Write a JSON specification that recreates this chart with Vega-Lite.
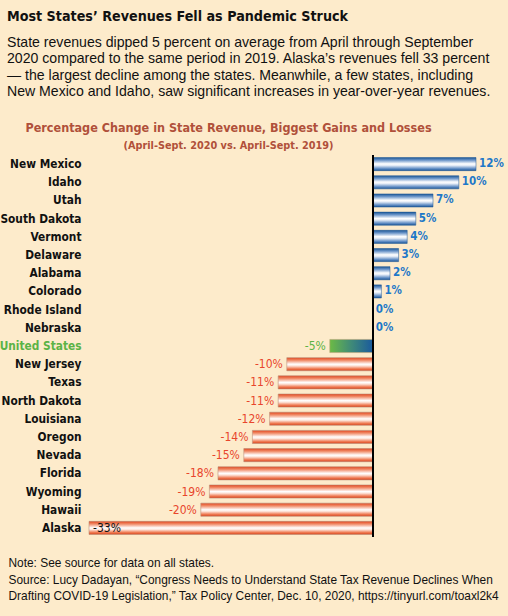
{
  "$schema": "https://vega.github.io/schema/vega-lite/v6.json",
  "width": 387,
  "height": 382,
  "autosize": {"type": "none"},
  "padding": {"left": 89, "top": 155, "right": 32, "bottom": 79},
  "background": "#FDEBCB",
  "config": {
    "view": {"stroke": null},
    "font": "Liberation Sans",
    "axis": {"grid": false},
    "locale": {"number": {"decimal": ".", "thousands": ",", "grouping": [3], "currency": ["$", ""], "minus": "-"}}
  },
  "title": {
    "text": "Most States’ Revenues Fell as Pandemic Struck",
    "subtitle": [
      "State revenues dipped 5 percent on average from April through September",
      "2020 compared to the same period in 2019. Alaska’s revenues fell 33 percent",
      "— the largest decline among the states. Meanwhile, a few states, including",
      "New Mexico and Idaho, saw significant increases in year-over-year revenues."
    ],
    "anchor": "start",
    "frame": "group",
    "dx": -82,
    "offset": 22,
    "font": "DejaVu Sans Condensed",
    "fontSize": 14.2,
    "fontWeight": "bold",
    "color": "#111111",
    "subtitleFont": "Liberation Sans",
    "subtitleFontSize": 14.1,
    "subtitleColor": "#111111",
    "subtitleLineHeight": 16.5,
    "subtitlePadding": 11.5
  },
  "data": {
    "values": [
      {"state": "New Mexico", "value": 0.12},
      {"state": "Idaho", "value": 0.10},
      {"state": "Utah", "value": 0.07},
      {"state": "South Dakota", "value": 0.05},
      {"state": "Vermont", "value": 0.04},
      {"state": "Delaware", "value": 0.03},
      {"state": "Alabama", "value": 0.02},
      {"state": "Colorado", "value": 0.01},
      {"state": "Rhode Island", "value": 0},
      {"state": "Nebraska", "value": 0},
      {"state": "United States", "value": -0.05},
      {"state": "New Jersey", "value": -0.10},
      {"state": "Texas", "value": -0.11},
      {"state": "North Dakota", "value": -0.11},
      {"state": "Louisiana", "value": -0.12},
      {"state": "Oregon", "value": -0.14},
      {"state": "Nevada", "value": -0.15},
      {"state": "Florida", "value": -0.18},
      {"state": "Wyoming", "value": -0.19},
      {"state": "Hawaii", "value": -0.20},
      {"state": "Alaska", "value": -0.33}
    ]
  },
  "resolve": {"axis": {"x": "independent"}},
  "layer": [
    {
      "mark": {
        "type": "bar",
        "stroke": "#1c5796",
        "strokeWidth": 0.5,
        "color": {
          "gradient": "linear", "x1": 0, "y1": 0, "x2": 0, "y2": 1,
          "stops": [
            {"offset": 0, "color": "#1c5796"},
            {"offset": 0.2, "color": "#6b95c9"},
            {"offset": 0.48, "color": "#ffffff"},
            {"offset": 0.6, "color": "#e6edf7"},
            {"offset": 0.85, "color": "#5f8cc4"},
            {"offset": 1, "color": "#1c5796"}
          ]
        }
      },
      "encoding": {
        "x": {
          "field": "value", "type": "quantitative",
          "scale": {"domain": [-0.33, 0.12], "nice": false},
          "axis": {
            "orient": "top", "domain": false, "ticks": false, "labels": false,
            "title": "Percentage Change in State Revenue, Biggest Gains and Losses",
            "titleX": 139, "titleY": -27.5, "titleAlign": "center", "titleBaseline": "middle",
            "titleFont": "DejaVu Sans Condensed", "titleFontWeight": "bold", "titleFontSize": 12.5,
            "titleColor": "#B0503A"
          }
        },
        "y": {
          "field": "state", "type": "nominal", "sort": null,
          "scale": {"paddingInner": 0.28, "paddingOuter": 0.14},
          "axis": {
            "domain": false, "ticks": false, "labelPadding": 8,
            "labelFont": "DejaVu Sans Condensed", "labelFontWeight": "bold", "labelFontSize": 11.8,
            "labelColor": {"condition": {"test": "datum.value === 'United States'", "value": "#5BB346"}, "value": "#111111"},
            "title": "(April-Sept. 2020 vs. April-Sept. 2019)",
            "titleAngle": 0, "titleX": 139, "titleY": -9.5, "titleAlign": "center", "titleBaseline": "middle",
            "titleFont": "DejaVu Sans Condensed", "titleFontWeight": "bold", "titleFontSize": 10.8,
            "titleColor": "#B0503A"
          }
        },
        "opacity": {"condition": {"test": "datum.value >= 0", "value": 1}, "value": 0}
      }
    },
    {
      "transform": [{"filter": "datum.value < 0 && datum.state !== 'United States'"}],
      "mark": {
        "type": "bar",
        "stroke": "#b8907a",
        "strokeWidth": 0.6,
        "color": {
          "gradient": "linear", "x1": 0, "y1": 0, "x2": 0, "y2": 1,
          "stops": [
            {"offset": 0, "color": "#e2461f"},
            {"offset": 0.2, "color": "#f08a66"},
            {"offset": 0.5, "color": "#ffffff"},
            {"offset": 0.62, "color": "#fde6dc"},
            {"offset": 0.85, "color": "#ef7a52"},
            {"offset": 1, "color": "#d9431d"}
          ]
        }
      },
      "encoding": {
        "x": {"field": "value", "type": "quantitative", "scale": {"domain": [-0.33, 0.12], "nice": false}, "axis": null},
        "y": {"field": "state", "type": "nominal", "sort": null, "scale": {"paddingInner": 0.28, "paddingOuter": 0.14}}
      }
    },
    {
      "transform": [{"filter": "datum.state === 'United States'"}],
      "mark": {
        "type": "bar",
        "stroke": "#b8a47a",
        "strokeWidth": 0.6,
        "color": {
          "gradient": "linear", "x1": 0, "y1": 0, "x2": 1, "y2": 0,
          "stops": [
            {"offset": 0, "color": "#6cba45"},
            {"offset": 0.5, "color": "#3f8a78"},
            {"offset": 1, "color": "#1a5a9e"}
          ]
        }
      },
      "encoding": {
        "x": {"field": "value", "type": "quantitative", "scale": {"domain": [-0.33, 0.12], "nice": false}, "axis": null},
        "y": {"field": "state", "type": "nominal", "sort": null, "scale": {"paddingInner": 0.28, "paddingOuter": 0.14}}
      }
    },
    {
      "mark": {"type": "rule", "color": "#000000", "strokeWidth": 1.2},
      "encoding": {
        "x": {
          "datum": 0, "type": "quantitative",
          "scale": {"domain": [-0.33, 0.12], "nice": false},
          "axis": {
            "orient": "bottom", "domain": false, "ticks": false, "labels": false,
            "title": [
              "Note: See source for data on all states.",
              "Source: Lucy Dadayan, “Congress Needs to Understand State Tax Revenue Declines When",
              "Drafting COVID-19 Legislation,” Tax Policy Center, Dec. 10, 2020, https://tinyurl.com/toaxl2k4"
            ],
            "titleX": -81, "titleY": 20.5, "titleAlign": "left", "titleBaseline": "top",
            "titleFont": "Liberation Sans", "titleFontWeight": "normal", "titleFontSize": 11.9,
            "titleLineHeight": 16.5, "titleColor": "#111111"
          }
        }
      }
    },
    {
      "transform": [{"filter": "datum.value >= 0"}],
      "mark": {"type": "text", "align": "left", "baseline": "middle", "dx": 3, "font": "DejaVu Sans Condensed", "fontWeight": "bold", "fontSize": 11.5, "color": "#1E78C8"},
      "encoding": {
        "x": {"field": "value", "type": "quantitative", "scale": {"domain": [-0.33, 0.12], "nice": false}, "axis": null},
        "y": {"field": "state", "type": "nominal", "sort": null, "scale": {"paddingInner": 0.28, "paddingOuter": 0.14}},
        "text": {"field": "value", "type": "quantitative", "format": ".0%"}
      }
    },
    {
      "transform": [{"filter": "datum.value < 0 && datum.value > -0.3 && datum.state !== 'United States'"}],
      "mark": {"type": "text", "align": "right", "baseline": "middle", "dx": -4, "font": "DejaVu Sans Condensed", "fontSize": 12, "color": "#E8452C"},
      "encoding": {
        "x": {"field": "value", "type": "quantitative", "scale": {"domain": [-0.33, 0.12], "nice": false}, "axis": null},
        "y": {"field": "state", "type": "nominal", "sort": null, "scale": {"paddingInner": 0.28, "paddingOuter": 0.14}},
        "text": {"field": "value", "type": "quantitative", "format": ".0%"}
      }
    },
    {
      "transform": [{"filter": "datum.state === 'United States'"}],
      "mark": {"type": "text", "align": "right", "baseline": "middle", "dx": -4, "font": "DejaVu Sans Condensed", "fontSize": 12, "color": "#5BB346"},
      "encoding": {
        "x": {"field": "value", "type": "quantitative", "scale": {"domain": [-0.33, 0.12], "nice": false}, "axis": null},
        "y": {"field": "state", "type": "nominal", "sort": null, "scale": {"paddingInner": 0.28, "paddingOuter": 0.14}},
        "text": {"field": "value", "type": "quantitative", "format": ".0%"}
      }
    },
    {
      "transform": [{"filter": "datum.value <= -0.3"}],
      "mark": {"type": "text", "align": "left", "baseline": "middle", "dx": 4, "font": "DejaVu Sans Condensed", "fontSize": 12, "color": "#111111"},
      "encoding": {
        "x": {"field": "value", "type": "quantitative", "scale": {"domain": [-0.33, 0.12], "nice": false}, "axis": null},
        "y": {"field": "state", "type": "nominal", "sort": null, "scale": {"paddingInner": 0.28, "paddingOuter": 0.14}},
        "text": {"field": "value", "type": "quantitative", "format": ".0%"}
      }
    }
  ]
}
